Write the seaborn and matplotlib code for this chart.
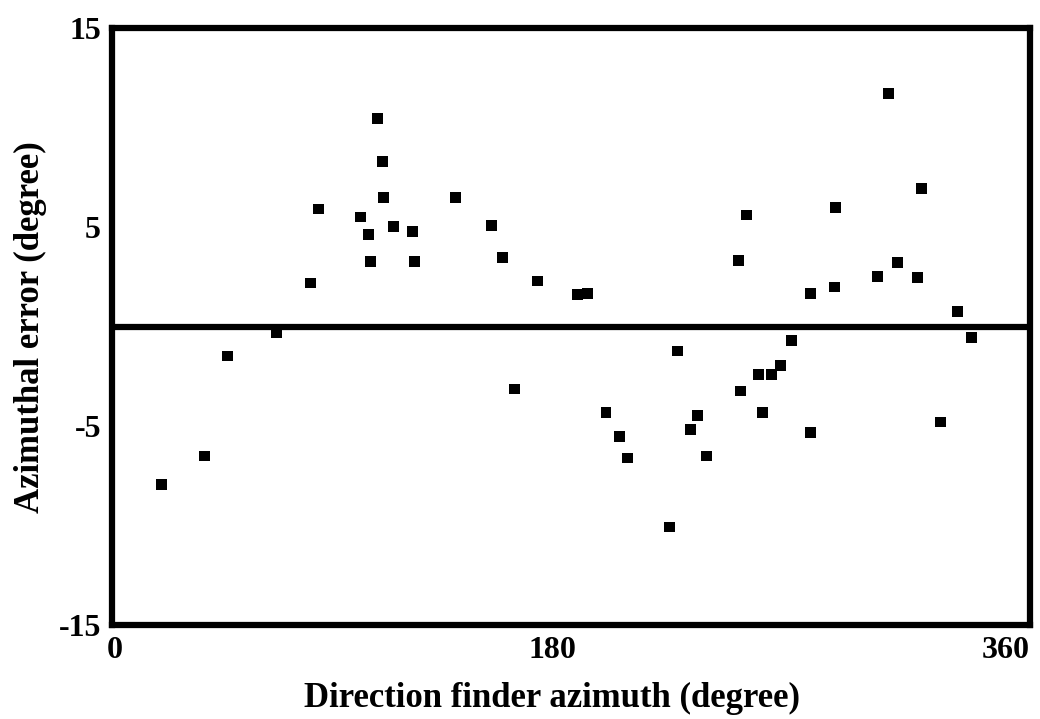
import matplotlib
matplotlib.use("Agg")
import matplotlib.pyplot as plt
import seaborn as sns
import pandas as pd

# values
azimuth = [15.4, 32.5, 41.6, 61.0, 74.5, 77.6, 94.3, 97.4, 98.2, 101.0,
           103.0, 103.4, 107.3, 114.9, 115.6, 131.9, 146.1, 150.5, 155.2, 164.4,
           180.2, 184.2, 191.7, 197.2, 200.4, 217.0, 220.2, 225.3, 228.1, 231.7,
           244.4, 245.1, 247.5, 252.3, 253.9, 257.4, 261.0, 265.3, 272.9, 272.9,
           282.4, 282.8, 299.4, 303.8, 307.3, 315.2, 316.8, 324.4, 331.1, 336.6]
error = [-7.91, -6.50, -1.47, -0.31, 2.20, 5.92, 5.52, 4.66, 3.26, 10.45,
         8.29, 6.48, 5.02, 4.77, 3.26, 6.48, 5.07, 3.46, -3.13, 2.30,
         1.60, 1.65, -4.29, -5.54, -6.60, -10.07, -1.22, -5.19, -4.44, -6.50,
         3.31, -3.23, 5.62, -2.38, -4.29, -2.38, -1.97, -0.67, 1.65, -5.34,
         2.00, 6.02, 2.55, 11.71, 3.21, 2.50, 6.93, -4.79, 0.79, -0.52]
x_ticks = [0, 180, 360]
y_ticks = [15, 5, -5, -15]

df = pd.DataFrame({"azimuth": azimuth, "error": error})

sns.set_theme(style="white")
plt.rcParams['font.family'] = ['Liberation Serif', 'DejaVu Serif']
plt.rcParams['font.weight'] = 'bold'
plt.rcParams['text.color'] = 'black'
plt.rcParams['axes.labelcolor'] = 'black'
plt.rcParams['xtick.color'] = 'black'
plt.rcParams['ytick.color'] = 'black'

fig = plt.figure(figsize=(10.4, 7.19), dpi=100)
ax = fig.add_axes([0.1077, 0.1307, 0.8827, 0.8297])

sns.scatterplot(data=df, x="azimuth", y="error", ax=ax, marker="s", s=62,
                color="black", edgecolor="none", linewidth=0)
ax.axhline(0, color="black", lw=4.5, zorder=1)

ax.set_xlim(-4.4, 359.2)
ax.set_ylim(-15, 15)
ax.set_xticks(x_ticks)
ax.set_yticks(y_ticks)
ax.set_xticklabels([str(t) for t in x_ticks], fontsize=23, fontweight='bold')
ax.set_yticklabels([str(t) for t in y_ticks], fontsize=23, fontweight='bold')
for lab in ax.get_xticklabels():
    lab.set_horizontalalignment('right')
ax.tick_params(axis='both', length=0, colors='black')
ax.tick_params(axis='x', pad=8)
ax.tick_params(axis='y', pad=8)

for sp in ax.spines.values():
    sp.set_visible(True)
    sp.set_color("black")
    sp.set_linewidth(4.5)

ax.set_xlabel("Direction finder azimuth (degree)", fontsize=25, fontweight='bold')
ax.xaxis.set_label_coords(0.479, -0.095)
ax.set_ylabel("Azimuthal error (degree)", fontsize=25, fontweight='bold', labelpad=8)

plt.savefig("out.png", dpi=100)
plt.close()
